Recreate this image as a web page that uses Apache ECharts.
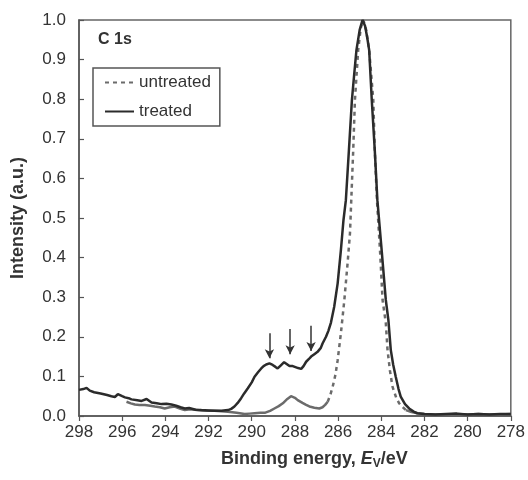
<!DOCTYPE html>
<html>
<head>
<meta charset="utf-8">
<script src="https://cdn.jsdelivr.net/npm/echarts@6/dist/echarts.min.js"></script>
<style>html,body{margin:0;padding:0;background:#fff}#c{width:528px;height:480px}</style>
</head>
<body>
<div id="c"></div>
<script>
// ---- data ----
var treatedE = [298.0,297.8,297.65,297.5,297.3,297.0,296.7,296.5,296.34,296.2,296.0,295.87,295.7,295.57,295.3,295.1,294.87,294.64,294.4,294.18,293.95,293.72,293.5,293.3,293.1,292.9,292.6,292.33,292.0,291.72,291.4,291.1,290.95,290.8,290.65,290.49,290.35,290.18,290.0,289.87,289.7,289.56,289.45,289.33,289.18,289.03,288.9,288.8,288.65,288.5,288.4,288.25,288.1,288.02,287.85,287.71,287.6,287.48,287.35,287.25,287.1,286.95,286.8,286.72,286.56,286.45,286.33,286.18,286.02,285.87,285.75,285.64,285.5,285.36,285.25,285.15,285.0,284.87,284.75,284.65,284.56,284.44,284.3,284.18,284.0,283.79,283.67,283.56,283.45,283.33,283.2,283.1,282.9,282.71,282.5,282.33,282.0,281.5,281.0,280.5,280.0,279.5,279.0,278.5,278.0];
var treatedI = [0.066,0.068,0.071,0.064,0.060,0.057,0.053,0.050,0.048,0.055,0.050,0.047,0.045,0.042,0.040,0.038,0.043,0.034,0.032,0.030,0.031,0.029,0.026,0.022,0.019,0.020,0.016,0.015,0.014,0.013,0.013,0.015,0.018,0.024,0.033,0.045,0.057,0.070,0.085,0.099,0.111,0.120,0.126,0.130,0.133,0.129,0.124,0.120,0.128,0.136,0.132,0.126,0.126,0.125,0.121,0.119,0.126,0.137,0.144,0.150,0.156,0.162,0.172,0.183,0.200,0.215,0.236,0.276,0.335,0.419,0.495,0.545,0.670,0.798,0.865,0.924,0.975,1.0,0.985,0.955,0.924,0.798,0.670,0.545,0.430,0.293,0.242,0.167,0.130,0.099,0.068,0.049,0.030,0.019,0.011,0.007,0.005,0.004,0.005,0.006,0.004,0.005,0.004,0.005,0.005];

// untreated: low-intensity part (drawn solid-looking) and peak part (dashed)
var untreatedLowE = [295.8,295.6,295.41,295.2,294.95,294.7,294.49,294.25,294.03,293.8,293.57,293.3,293.1,292.85,292.64,292.3,292.0,291.72,291.4,291.1,290.7,290.33,290.1,289.87,289.6,289.4,289.15,288.95,288.75,288.56,288.35,288.18,288.0,287.87,287.65,287.48,287.33,287.1,286.87,286.72,286.6,286.48];
var untreatedLowI = [0.036,0.032,0.029,0.028,0.028,0.026,0.024,0.022,0.019,0.022,0.024,0.018,0.015,0.017,0.016,0.014,0.013,0.013,0.012,0.011,0.008,0.005,0.006,0.007,0.008,0.008,0.013,0.019,0.025,0.032,0.043,0.050,0.046,0.040,0.033,0.028,0.024,0.021,0.019,0.022,0.028,0.036];
var untreatedPeakE = [286.48,286.35,286.25,286.12,286.02,285.87,285.71,285.56,285.45,285.39,285.3,285.22,285.07,284.95,284.83,284.7,284.56,284.37,284.3,284.2,284.05,283.94,283.79,283.71,283.6,283.48,283.3,283.17,283.0,282.86];
var untreatedPeakI = [0.036,0.055,0.074,0.105,0.141,0.209,0.293,0.386,0.461,0.545,0.670,0.798,0.924,0.980,1.0,0.975,0.924,0.798,0.670,0.545,0.410,0.293,0.235,0.167,0.115,0.074,0.045,0.032,0.022,0.015];
var untreatedTailE = [282.86,282.6,282.33,282.0,281.5,281.0,280.5,280.0,279.5,279.0,278.5,278.0];
var untreatedTailI = [0.015,0.010,0.007,0.005,0.004,0.004,0.005,0.004,0.005,0.004,0.004,0.005];

// arrows marking features
var arrowE = [289.18, 288.22, 287.25];
var arrowTop = [0.209, 0.220, 0.228];
var arrowTip = [0.146, 0.156, 0.164];

var xTicks = {min: 278, max: 298, interval: 2};
var yTicks = {min: 0, max: 1, interval: 0.1};

function pairs(xs, ys) { return xs.map(function (x, i) { return [x, ys[i]]; }); }

var treatedColor = '#2b2b2b';
var untreatedColor = '#6b6b6b';
var font = '"Liberation Sans", Arial, sans-serif';

var chart = echarts.init(document.getElementById('c'), null, {renderer: 'canvas'});
chart.setOption({
  animation: false,
  backgroundColor: '#fff',
  grid: {left: 79, right: 16, top: 20, bottom: 64, show: true, borderColor: '#666', borderWidth: 1.5, backgroundColor: 'transparent'},
  xAxis: {
    type: 'value', inverse: true, min: xTicks.min, max: xTicks.max, interval: xTicks.interval,
    axisLine: {show: true, onZero: false, lineStyle: {color: '#555', width: 1.5}},
    axisTick: {show: true, inside: false, length: 5, lineStyle: {color: '#555', width: 1.2}},
    axisLabel: {color: '#333', fontSize: 17, fontFamily: font, margin: 8},
    splitLine: {show: false},
    name: '{b|Binding energy, }{i|E}{s|V}{b|/eV}',
    nameLocation: 'middle', nameGap: 33,
    nameTextStyle: {
      padding: [0, 0, 0, 39],
      rich: {
        b: {fontSize: 18, fontWeight: 'bold', color: '#333', fontFamily: font},
        i: {fontSize: 18, fontWeight: 'bold', fontStyle: 'italic', color: '#333', fontFamily: font},
        s: {fontSize: 12, fontWeight: 'bold', color: '#333', fontFamily: font, padding: [9, 0, 0, 0]}
      }
    }
  },
  yAxis: {
    type: 'value', min: yTicks.min, max: yTicks.max, interval: yTicks.interval,
    axisLine: {show: true, onZero: false, lineStyle: {color: '#555', width: 1.5}},
    axisTick: {show: true, inside: true, length: 5, lineStyle: {color: '#555', width: 1.2}},
    axisLabel: {color: '#333', fontSize: 17, fontFamily: font, margin: 13, formatter: function (v) { return v.toFixed(1); }},
    splitLine: {show: false},
    name: 'Intensity (a.u.)', nameLocation: 'middle', nameGap: 52,
    nameTextStyle: {fontSize: 18, fontWeight: 'bold', color: '#333', fontFamily: font}
  },
  legend: {
    data: ['untreated', 'treated'],
    orient: 'vertical', left: 93, top: 68,
    padding: [6, 9, 6, 11],
    borderColor: '#555', borderWidth: 1.5,
    itemWidth: 29, itemHeight: 17, itemGap: 12,
    itemStyle: {opacity: 0},
    textStyle: {fontSize: 17, color: '#333', fontFamily: font},
    selectedMode: false
  },
  graphic: [{
    type: 'text', left: 98, top: 32,
    style: {text: 'C 1s', fontSize: 16, fontWeight: 'bold', fill: '#333', fontFamily: font}
  }],
  series: [
    {
      name: 'untreated-low', type: 'line', symbol: 'none', data: pairs(untreatedLowE, untreatedLowI),
      lineStyle: {color: untreatedColor, width: 2.5}, itemStyle: {color: untreatedColor}, z: 2
    },
    {
      name: 'untreated-tail', type: 'line', symbol: 'none', data: pairs(untreatedTailE, untreatedTailI),
      lineStyle: {color: untreatedColor, width: 2.5}, itemStyle: {color: untreatedColor}, z: 2
    },
    {
      name: 'untreated', type: 'line', symbol: 'none', data: pairs(untreatedPeakE, untreatedPeakI),
      lineStyle: {color: untreatedColor, width: 2.5, type: [4, 4]}, itemStyle: {color: untreatedColor}, z: 3
    },
    {
      name: 'treated', type: 'line', symbol: 'none', data: pairs(treatedE, treatedI),
      lineStyle: {color: treatedColor, width: 2.5}, itemStyle: {color: treatedColor}, z: 4,
      markLine: {
        silent: true, symbol: ['none', 'arrow'], symbolSize: [7, 9],
        label: {show: false},
        lineStyle: {color: '#333', width: 1.5, type: 'solid'},
        data: arrowE.map(function (e, i) {
          return [{coord: [e, arrowTop[i]]}, {coord: [e, arrowTip[i]]}];
        })
      }
    }
  ]
});
</script>
</body>
</html>
